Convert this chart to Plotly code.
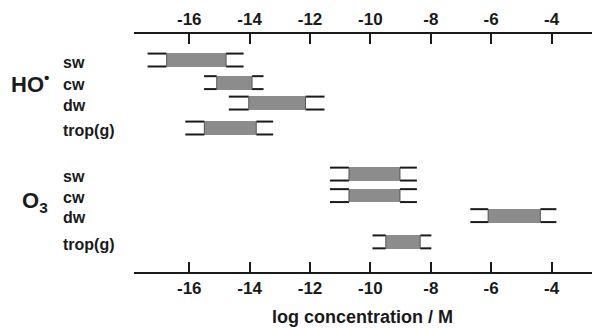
import plotly.graph_objects as go

# ---- data ----
species = ["HO•", "HO•", "HO•", "HO•", "O3", "O3", "O3", "O3"]
media = ["sw", "cw", "dw", "trop(g)", "sw", "cw", "dw", "trop(g)"]
outer_min = [-17.38, -15.51, -14.69, -16.13, -11.34, -11.34, -6.69, -9.93]
inner_min = [-16.75, -15.09, -14.03, -15.50, -10.71, -10.71, -6.10, -9.49]
inner_max = [-14.78, -13.92, -12.15, -13.78, -9.02, -9.02, -4.37, -8.35]
outer_max = [-14.20, -13.54, -11.52, -13.22, -8.46, -8.46, -3.84, -7.98]
tick_vals = [-16, -14, -12, -10, -8, -6, -4]
tick_text = ["-16", "-14", "-12", "-10", "-8", "-6", "-4"]

# ---- layout positions (rows) ----
row_y = [0, 1.05, 2.0, 3.16, 5.3, 6.3, 7.23, 8.45]
BOX_H = 0.64
WH = 0.30

FONT = "Liberation Sans, Arial, sans-serif"
INK = "#1a1a1a"

fig = go.Figure()

# gray boxes
fig.add_trace(go.Bar(
    y=row_y,
    x=[b - a for a, b in zip(inner_min, inner_max)],
    base=inner_min,
    orientation="h",
    width=BOX_H,
    marker=dict(color="#8c8c8c", line=dict(width=0)),
    hoverinfo="skip",
    showlegend=False,
))

# whiskers
wx, wy = [], []
for y, o0, i0, i1, o1 in zip(row_y, outer_min, inner_min, inner_max, outer_max):
    for yy in (y - WH, y + WH):
        wx += [o0, i0, None, i1, o1, None]
        wy += [yy, yy, None, yy, yy, None]
fig.add_trace(go.Scatter(x=wx, y=wy, mode="lines",
                         line=dict(color=INK, width=2),
                         hoverinfo="skip", showlegend=False))

# box end edges
ex, ey = [], []
for y, i0, i1 in zip(row_y, inner_min, inner_max):
    for xx in (i0, i1):
        ex += [xx, xx, None]
        ey += [y - WH, y + WH, None]
fig.add_trace(go.Scatter(x=ex, y=ey, mode="lines",
                         line=dict(color="#555555", width=1),
                         hoverinfo="skip", showlegend=False))

# invisible trace for top axis
fig.add_trace(go.Scatter(x=[tick_vals[0]], y=[row_y[0]], xaxis="x2",
                         mode="markers", marker=dict(opacity=0),
                         hoverinfo="skip", showlegend=False))

axis_common = dict(
    range=[-17.83, -2.66],
    tickmode="array", tickvals=tick_vals, ticktext=tick_text,
    ticks="inside", ticklen=10, tickwidth=2, tickcolor=INK,
    showline=True, linecolor=INK, linewidth=2,
    showgrid=False, zeroline=False,
    tickfont=dict(family=FONT, size=17, color=INK, weight="bold"),
)

fig.update_layout(
    width=592, height=328,
    margin=dict(l=134, r=0, t=34, b=56),
    plot_bgcolor="white", paper_bgcolor="white",
    xaxis=dict(side="bottom", **axis_common),
    xaxis2=dict(side="top", overlaying="x", matches="x", anchor="y", **axis_common),
    yaxis=dict(range=[9.85, -1.21], visible=False, showgrid=False, zeroline=False),
    bargap=0,
)

ann = []
for y, m in zip(row_y, media):
    ann.append(dict(x=-0.16, y=y + 0.1, xref="paper", yref="y", text=m,
                    showarrow=False, xanchor="left", yanchor="middle",
                    font=dict(family=FONT, size=16, color=INK, weight="bold")))
ann.append(dict(x=-0.272, y=1.05, xref="paper", yref="y", text="HO<sup>•</sup>",
                showarrow=False, xanchor="left", yanchor="middle",
                font=dict(family=FONT, size=22, color=INK, weight="bold")))
ann.append(dict(x=-0.25, y=6.62, xref="paper", yref="y", text="O<sub>3</sub>",
                showarrow=False, xanchor="left", yanchor="middle",
                font=dict(family=FONT, size=22, color=INK, weight="bold")))
ann.append(dict(x=-10.27, y=-0.19, xref="x", yref="paper",
                text="log concentration / M", showarrow=False,
                xanchor="center", yanchor="middle",
                font=dict(family=FONT, size=18, color=INK, weight="bold")))
fig.update_layout(annotations=ann)

fig.write_html("out.html")
